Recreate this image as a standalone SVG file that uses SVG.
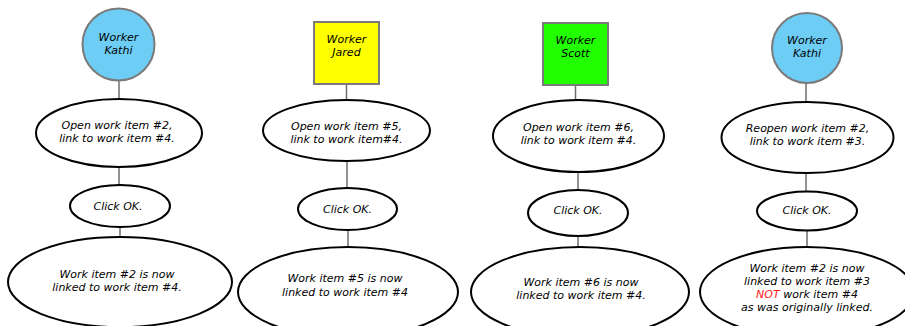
<svg xmlns="http://www.w3.org/2000/svg" width="905" height="326" viewBox="0 0 905 326">
  <style>
    .bg { fill: #ffffff; }
    .worker { stroke: #7a7a7a; stroke-width: 2; }
    .step { fill: #ffffff; stroke: #000000; stroke-width: 2; }
    .link { stroke: #6e6e6e; stroke-width: 1.5; fill: none; }
    text { font-family: "DejaVu Sans", Verdana, sans-serif; font-style: italic; font-size: 11px; fill: #000000; text-anchor: middle; }
    .warn { fill: #ff1a1a; }
  </style>
  <rect class="bg" x="0" y="0" width="905" height="326"/>

  <!-- connectors -->
  <g id="connectors">
    <line class="link" x1="119" y1="81" x2="119" y2="99"/>
    <line class="link" x1="119" y1="167" x2="119" y2="185"/>
    <line class="link" x1="120" y1="227" x2="120" y2="237"/>

    <line class="link" x1="346.5" y1="85" x2="346.5" y2="100"/>
    <line class="link" x1="347" y1="161" x2="347" y2="188"/>
    <line class="link" x1="348" y1="230" x2="348" y2="247"/>

    <line class="link" x1="575.5" y1="86" x2="575.5" y2="100"/>
    <line class="link" x1="578" y1="172" x2="578" y2="190"/>
    <line class="link" x1="578" y1="236" x2="578" y2="247"/>

    <line class="link" x1="806" y1="83" x2="806" y2="102"/>
    <line class="link" x1="806" y1="173" x2="806" y2="192"/>
    <line class="link" x1="807" y1="230" x2="807" y2="247"/>
  </g>

  <!-- column 1: Kathi -->
  <g id="worker-kathi-1">
    <circle class="worker" cx="118.5" cy="44.5" r="36" fill="#6dcdf5"/>
    <text x="118.5" y="41">Worker</text>
    <text x="118.5" y="54">Kathi</text>
  </g>
  <g id="open-item-2">
    <ellipse class="step" cx="119" cy="133" rx="83" ry="34"/>
    <text x="117" y="129">Open work item #2,</text>
    <text x="117" y="142">link to work item #4.</text>
  </g>
  <g id="click-ok-1">
    <ellipse class="step" cx="120" cy="206" rx="50" ry="21"/>
    <text x="118" y="210">Click OK.</text>
  </g>
  <g id="result-1">
    <ellipse class="step" cx="120" cy="282" rx="112" ry="45"/>
    <text x="117" y="278">Work item #2 is now</text>
    <text x="117" y="291">linked to work item #4.</text>
  </g>

  <!-- column 2: Jared -->
  <g id="worker-jared">
    <rect class="worker" x="314" y="22" width="65" height="62" fill="#ffff00"/>
    <text x="346.5" y="43">Worker</text>
    <text x="346.5" y="56">Jared</text>
  </g>
  <g id="open-item-5">
    <ellipse class="step" cx="346.5" cy="130.5" rx="83.5" ry="30.5"/>
    <text x="346.5" y="130">Open work item #5,</text>
    <text x="346.5" y="143">link to work item#4.</text>
  </g>
  <g id="click-ok-2">
    <ellipse class="step" cx="347.5" cy="209" rx="49.5" ry="21"/>
    <text x="347.5" y="213">Click OK.</text>
  </g>
  <g id="result-2">
    <ellipse class="step" cx="348" cy="292" rx="110" ry="45"/>
    <text x="345" y="282">Work item #5 is now</text>
    <text x="345" y="296">linked to work item #4</text>
  </g>

  <!-- column 3: Scott -->
  <g id="worker-scott">
    <rect class="worker" x="543" y="23" width="65" height="62" fill="#22ff00"/>
    <text x="575.5" y="44">Worker</text>
    <text x="575.5" y="57">Scott</text>
  </g>
  <g id="open-item-6">
    <ellipse class="step" cx="578.5" cy="136" rx="85.5" ry="36"/>
    <text x="578.5" y="131">Open work item #6,</text>
    <text x="578.5" y="144">link to work item #4.</text>
  </g>
  <g id="click-ok-3">
    <ellipse class="step" cx="578" cy="213" rx="50" ry="23"/>
    <text x="578" y="214">Click OK.</text>
  </g>
  <g id="result-3">
    <ellipse class="step" cx="580" cy="292" rx="109" ry="45"/>
    <text x="581" y="286">Work item #6 is now</text>
    <text x="581" y="299">linked to work item #4.</text>
  </g>

  <!-- column 4: Kathi again -->
  <g id="worker-kathi-2">
    <circle class="worker" cx="807" cy="48" r="35" fill="#6dcdf5"/>
    <text x="807" y="44">Worker</text>
    <text x="807" y="57">Kathi</text>
  </g>
  <g id="reopen-item-2">
    <ellipse class="step" cx="807.5" cy="137.5" rx="86" ry="35.5"/>
    <text x="807.5" y="132">Reopen work item #2,</text>
    <text x="807.5" y="145">link to work item #3.</text>
  </g>
  <g id="click-ok-4">
    <ellipse class="step" cx="807" cy="211" rx="50" ry="19.5"/>
    <text x="807" y="214">Click OK.</text>
  </g>
  <g id="result-4">
    <ellipse class="step" cx="807" cy="292" rx="107" ry="45"/>
    <text x="807" y="272">Work item #2 is now</text>
    <text x="807" y="285">linked to work item #3</text>
    <text x="807" y="298"><tspan class="warn">NOT</tspan> work item #4</text>
    <text x="807" y="311">as was originally linked.</text>
  </g>
</svg>
